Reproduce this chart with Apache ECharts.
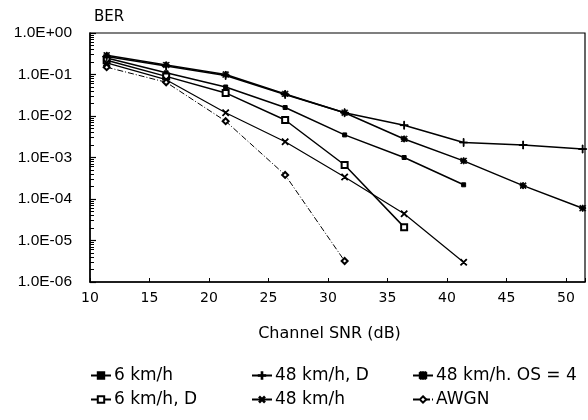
<!DOCTYPE html>
<html>
<head>
<meta charset="utf-8">
<title>BER vs Channel SNR</title>
<script src="https://cdn.jsdelivr.net/npm/echarts@6/dist/echarts.min.js"></script>
<style>
  html, body { margin: 0; padding: 0; background: #fff; }
  #main { width: 588px; height: 420px; }
</style>
</head>
<body>
<div id="main"></div>
<script>
// channel SNR (dB) at each measured point
var snr = [11.4, 16.4, 21.4, 26.4, 31.4, 36.4, 41.4, 46.4, 51.4];

// BER
var ber6 = [0.25, 0.11, 0.05, 0.016, 3.5e-3, 1.0e-3, 2.2e-4];
var ber6D = [0.22, 0.09, 0.036, 8.0e-3, 6.6e-4, 2.1e-5];
var ber48D = [0.27, 0.16, 0.095, 0.033, 0.012, 6.0e-3, 2.3e-3, 2.0e-3, 1.6e-3];
var ber48 = [0.19, 0.075, 0.012, 2.4e-3, 3.4e-4, 4.4e-5, 3.0e-6];
var ber48OS4 = [0.29, 0.17, 0.1, 0.034, 0.012, 2.8e-3, 8.3e-4, 2.1e-4, 6.0e-5];
var berAWGN = [0.15, 0.065, 7.5e-3, 3.8e-4, 3.2e-6];

var xTicks = [10, 15, 20, 25, 30, 35, 40, 45, 50];
var yTickLabels = ['1.0E+00', '1.0E-01', '1.0E-02', '1.0E-03', '1.0E-04', '1.0E-05', '1.0E-06'];

var names = ['6 km/h', '6 km/h, D', '48 km/h, D', '48 km/h', '48 km/h. OS = 4', 'AWGN'];

// marker shapes
var plusPath = 'path://M4.5,0H5.5V10H4.5Z M0,4.5H10V5.5H0Z';
var starPath = 'path://M4,0H6V10H4Z M0,4H10V6H0Z M1,0L10,9L9,10L0,1Z M9,0L10,1L1,10L0,9Z';

function pts(arr) {
    var out = [];
    for (var i = 0; i < arr.length; i++) out.push([snr[i], arr[i]]);
    return out;
}

function mkSeries(name, arr, symbol, size, lineType, width, rotate) {
    return {
        name: name,
        type: 'line',
        data: pts(arr),
        symbol: symbol,
        symbolSize: size,
        symbolRotate: rotate || 0,
        showSymbol: true,
        smooth: false,
        lineStyle: { color: '#000', width: width, type: lineType },
        itemStyle: { color: '#000', borderColor: '#000', borderWidth: 1 },
        emphasis: { disabled: true },
        z: 3
    };
}

var font = 'DejaVu Sans, Liberation Sans, Arial, sans-serif';
var fontNarrow = 'Liberation Sans, Arial, Helvetica, sans-serif';

var legendBase = {
    orient: 'vertical',
    top: 367,
    padding: 0,
    itemWidth: 20,
    itemHeight: 8,
    itemGap: 7,
    textStyle: { fontFamily: font, fontSize: 17, lineHeight: 17, color: '#000', padding: [0, 0, 0, -2] },
    selectedMode: false
};

var myChart = echarts.init(document.getElementById('main'), null, { renderer: 'canvas' });

var option = {
    backgroundColor: '#fff',
    animation: false,
    textStyle: { fontFamily: font },
    grid: {
        left: 90, right: 1, top: 33, bottom: 138,
        show: true, borderColor: '#000', borderWidth: 1.2, backgroundColor: 'transparent'
    },
    legend: [
        Object.assign({}, legendBase, { left: 90, data: [names[0], names[1]] }),
        Object.assign({}, legendBase, { left: 251, data: [names[2], names[3]] }),
        Object.assign({}, legendBase, { left: 412, data: [names[4], names[5]] })
    ],
    xAxis: {
        type: 'value',
        min: 10,
        max: 51.6,
        interval: 5,
        name: 'Channel SNR (dB)',
        nameLocation: 'middle',
        nameGap: 44,
        nameTextStyle: { fontFamily: font, fontSize: 16, color: '#000', padding: [0, 16, 0, 0] },
        axisLine: { show: true, lineStyle: { color: '#000', width: 1.5 } },
        axisTick: { show: true, inside: true, length: 4, lineStyle: { color: '#000', width: 1 } },
        axisLabel: {
            color: '#000', fontSize: 14, fontFamily: font, margin: 9,
            formatter: function (v) { return xTicks.indexOf(v) >= 0 ? String(v) : ''; }
        },
        splitLine: { show: false }
    },
    yAxis: {
        type: 'log',
        logBase: 10,
        min: 1e-6,
        max: 1,
        name: 'BER',
        nameLocation: 'end',
        nameGap: 8,
        nameTextStyle: { fontFamily: font, fontSize: 15, color: '#000', align: 'left', padding: [0, 0, 0, 4] },
        axisLine: { show: true, lineStyle: { color: '#000', width: 1.5 } },
        axisTick: { show: true, inside: true, length: 6, lineStyle: { color: '#000', width: 1.2 } },
        minorTick: { show: true, splitNumber: 9, length: 4, lineStyle: { color: '#000', width: 1 } },
        axisLabel: {
            color: '#000', fontSize: 15.5, fontFamily: fontNarrow, margin: 18,
            formatter: function (v) {
                var k = -Math.round(Math.log10(v));
                return yTickLabels[k] || '';
            }
        },
        splitLine: { show: false },
        minorSplitLine: { show: false }
    },
    series: [
        mkSeries(names[0], ber6, 'rect', 4, 'solid', 1.5),
        mkSeries(names[1], ber6D, 'emptyRect', 6, 'solid', 1.5),
        mkSeries(names[2], ber48D, plusPath, 8, 'solid', 1.5),
        mkSeries(names[3], ber48, plusPath, 8, 'solid', 1.2, 45),
        mkSeries(names[4], ber48OS4, starPath, 6, 'solid', 1.5),
        mkSeries(names[5], berAWGN, 'emptyDiamond', 6, [6, 2, 1, 2], 1)
    ]
};

myChart.setOption(option);
</script>
</body>
</html>
